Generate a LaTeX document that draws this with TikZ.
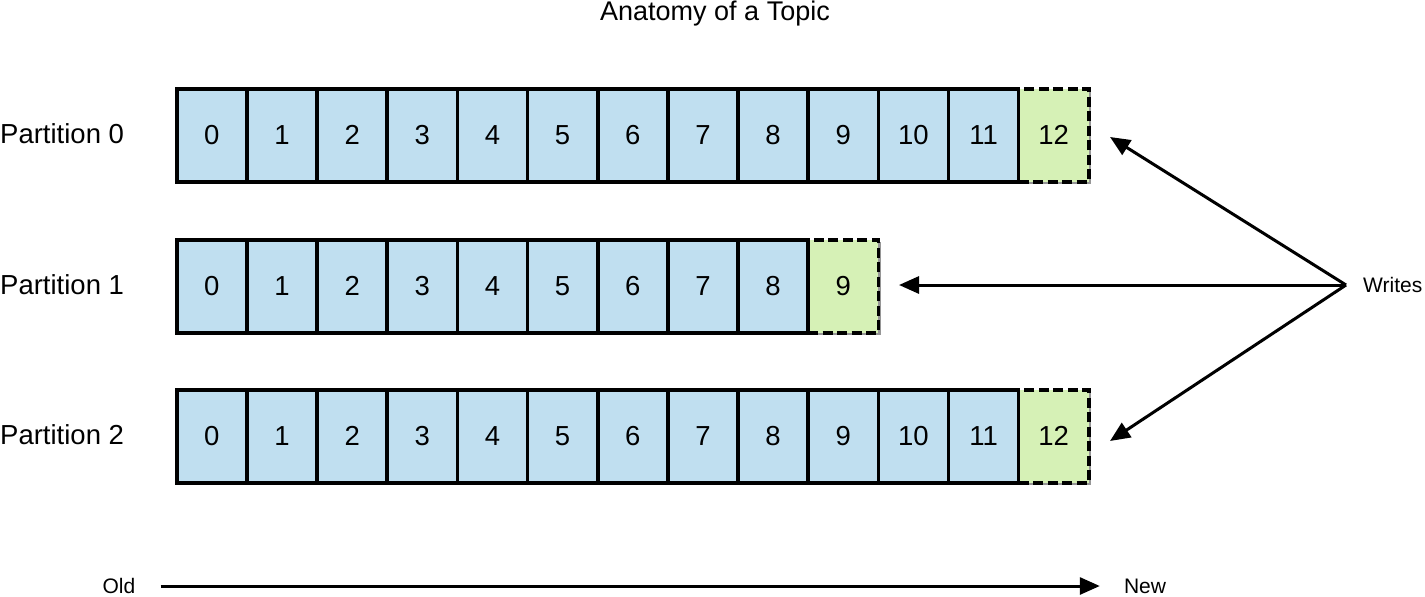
\documentclass[tikz,border=0pt]{standalone}
\usepackage{fontspec}
\setmainfont{Liberation Sans}
\usetikzlibrary{arrows.meta}
\definecolor{cellblue}{RGB}{192,223,240}
\definecolor{cellgreen}{RGB}{214,241,182}
\definecolor{shadowgray}{RGB}{150,150,150}
\begin{document}
\begin{tikzpicture}[x=1pt,y=-1pt,
  cellbox/.style={draw=black, line width=3.6pt, fill=cellblue, minimum width=70.15pt,
    minimum height=93pt, inner sep=0pt, anchor=north west, font=\fontsize{27.5}{30}\selectfont},
  newcell/.style={cellbox, fill=cellgreen, dash pattern=on 10pt off 4.5pt},
  shadowbox/.style={fill=shadowgray, draw=none},
  plabel/.style={font=\fontsize{27.5}{30}\selectfont, anchor=west, inner sep=0pt},
  smalltext/.style={font=\fontsize{21}{24}\selectfont, inner sep=0pt},
  arr/.style={line width=3pt, -{Triangle[length=20pt,width=17pt]}}
]
\useasboundingbox (0,0) rectangle (1425,597);

\node[font=\fontsize{27}{30}\selectfont] (title) at (715,14) {Anatomy of a Topic};

\def\xo{175}
\def\cw{70.15}
% shadows
\fill[shadowbox] (\xo+4,87+4) rectangle (\xo+13*\cw+4,87+93+4);
\fill[shadowbox] (\xo+4,238+4) rectangle (\xo+10*\cw+4,238+93+4);
\fill[shadowbox] (\xo+4,388+4) rectangle (\xo+13*\cw+4,388+93+4);

% Partition 0
\node[newcell] (p0c12) at (\xo+12*\cw,87) {12};
\foreach \i in {0,...,11} \node[cellbox] (p0c\i) at (\xo+\i*\cw,87) {\i};
% Partition 1
\node[newcell] (p1c9) at (\xo+9*\cw,238) {9};
\foreach \i in {0,...,8} \node[cellbox] (p1c\i) at (\xo+\i*\cw,238) {\i};
% Partition 2
\node[newcell] (p2c12) at (\xo+12*\cw,388) {12};
\foreach \i in {0,...,11} \node[cellbox] (p2c\i) at (\xo+\i*\cw,388) {\i};

\node[plabel] (l0) at (0,133.5) {Partition 0};
\node[plabel] (l1) at (0,284.5) {Partition 1};
\node[plabel] (l2) at (0,434.5) {Partition 2};

% Writes
\node[smalltext, anchor=west] (writes) at (1363,285) {Writes};
\coordinate (src) at (1346,285);
\coordinate (t0) at (1110,137);
\coordinate (t1) at (899,285);
\coordinate (t2) at (1110,441);
\draw[arr] (src) -- (t0);
\draw[arr] (src) -- (t1);
\draw[arr] (src) -- (t2);

% Old -> New
\node[smalltext] (old) at (119,586) {Old};
\node[smalltext] (new) at (1145,586) {New};
\draw[arr] ([xshift=25pt]old.east) -- ([xshift=-24pt]new.west);
\end{tikzpicture}
\end{document}
